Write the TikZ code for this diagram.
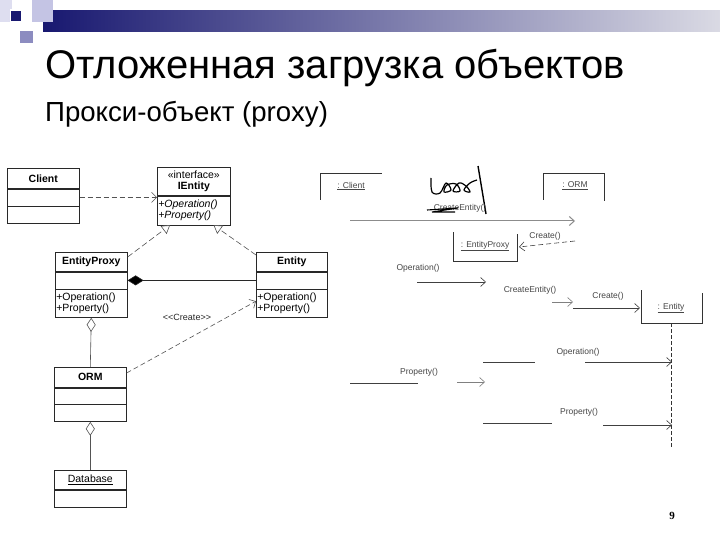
\documentclass[tikz,border=0pt]{standalone}
\usepackage{fontspec}
\setmainfont{Liberation Sans}
\newfontfamily\numfont{Liberation Serif}
\usetikzlibrary{arrows.meta,calc}
\definecolor{navy}{RGB}{24,24,112}
\definecolor{barend}{RGB}{218,218,228}
\definecolor{lavA}{RGB}{222,222,240}
\definecolor{lavB}{RGB}{196,196,228}
\definecolor{lavC}{RGB}{140,140,192}
\definecolor{umlline}{RGB}{40,40,40}
\definecolor{seqtext}{RGB}{70,70,70}
\begin{document}
\begin{tikzpicture}[x=1pt,y=-1pt,
  cls/.style={draw=umlline, line width=0.6pt, inner sep=0pt, fill=white,
    font=\fontsize{10.5}{12}\selectfont, anchor=north west},
  clsname/.style={cls, font=\fontsize{10.5}{12}\selectfont\bfseries},
  clsbody/.style={cls, anchor=north},
  clsmeth/.style={cls, anchor=north, align=left, inner xsep=1pt},
  dep/.style={draw=umlline!80, line width=0.6pt, dash pattern=on 5pt off 3pt,
    -{Straight Barb[length=5pt,width=10pt]}},
  real/.style={draw=umlline!80, line width=0.6pt, dash pattern=on 6pt off 3pt,
    -{Triangle[open,length=8pt,width=10pt,fill=white]}},
  seqlbl/.style={font=\fontsize{8.5}{10}\selectfont, text=seqtext, inner sep=0pt},
  seqmsg/.style={draw=black!75, line width=0.6pt},
  seqarr/.style={seqmsg, -{Straight Barb[length=5pt,width=9pt]}},
  seqbox/.style={draw=black!80, line width=0.8pt}
]
\useasboundingbox (0,0) rectangle (720,540);
\fill[white] (0,0) rectangle (720,540);

% ---------- header decoration ----------
\shade[left color=navy, right color=barend] (43,11) rectangle (720,32);
\fill[lavA] (0,0) rectangle (12,9);
\fill[lavB] (32,0) rectangle (53,22);
\fill[lavA] (0,9) rectangle (10,22);
\fill[navy] (11,11) rectangle (21,21);
\fill[lavC] (20,31) rectangle (33,43);

% ---------- titles ----------
\node[anchor=base west, inner sep=0pt, font=\fontsize{40}{44}\selectfont] (title) at (45,79)
  {Отложенная загрузка объектов};
\node[anchor=base west, inner sep=0pt, font=\fontsize{27.6}{30}\selectfont] (subtitle) at (45,122)
  {Прокси-объект (proxy)};

% ---------- class diagram ----------
% Client
\node[clsname, minimum width=72pt, minimum height=20pt] (clN) at (7,168) {Client};
\node[clsbody, minimum width=72pt, minimum height=17pt] (clA) at (clN.south) {};
\node[clsbody, minimum width=72pt, minimum height=17pt] (clM) at (clA.south) {};

% IEntity
\node[cls, minimum width=73pt, minimum height=28pt, align=center,
  font=\fontsize{10.5}{12}\selectfont] (ieN) at (157,167)
  {«interface»\\[-1pt]\textbf{IEntity}};
\node[clsmeth, text width=71pt, minimum height=29pt] (ieM) at (ieN.south)
  {\itshape +Operation()\\[-1pt]\itshape +Property()};

% EntityProxy
\node[clsname, minimum width=72pt, minimum height=19pt] (epN) at (55,252) {EntityProxy};
\node[clsbody, minimum width=72pt, minimum height=17pt] (epA) at (epN.south) {};
\node[clsmeth, text width=70pt, minimum height=28pt] (epM) at (epA.south)
  {+Operation()\\[-1pt]+Property()};

% Entity
\node[clsname, minimum width=71pt, minimum height=19pt] (enN) at (256,252) {Entity};
\node[clsbody, minimum width=71pt, minimum height=17pt] (enA) at (enN.south) {};
\node[clsmeth, text width=69pt, minimum height=28pt] (enM) at (enA.south)
  {+Operation()\\[-1pt]+Property()};

% ORM
\node[clsname, minimum width=72pt, minimum height=20pt] (ormN) at (54,367) {ORM};
\node[clsbody, minimum width=72pt, minimum height=16pt] (ormA) at (ormN.south) {};
\node[clsbody, minimum width=72pt, minimum height=17pt] (ormM) at (ormA.south) {};

% Database
\node[cls, minimum width=72pt, minimum height=19pt] (dbN) at (54,470) {\underline{Database}};
\node[clsbody, minimum width=72pt, minimum height=17pt] (dbA) at (dbN.south) {};

% connectors
\draw[dep] (clA.east) -- (clA.east -| ieN.west);
\draw[real] ([yshift=-5pt]epN.north east) -- ([xshift=13pt]ieM.south west);
\draw[real] ([yshift=-3pt]enN.north west) -- ([xshift=-17pt]ieM.south east);
\draw[draw=umlline, line width=0.6pt,
  {Diamond[length=16pt,width=10pt,fill=black]}-] (epA.east) -- (enA.west);
\draw[dep] ([yshift=-6pt]ormN.north east) -- ([yshift=-12pt]enM.north west);
\node[font=\fontsize{9}{10}\selectfont, text=umlline] (createlbl) at (187,317)
  {\mbox{<}\mbox{<}Create\mbox{>}\mbox{>}};
\draw[draw=umlline!80, line width=0.6pt,
  {Diamond[open,length=14pt,width=9pt,fill=white]}-] (epM.south) -- (ormN.north);
\draw[draw=umlline!80, line width=0.6pt,
  {Diamond[open,length=14pt,width=9pt,fill=white]}-] (ormM.south) -- (dbN.north);

% ---------- sequence diagram ----------
% lifeline headers
\draw[seqbox] (320,200) -- (320,173) -- (382,173);
\node[seqlbl] (sClient) at (351,186) {\underline{: Client}};
\draw[seqbox] (543,200) -- (543,173) -- (604,173) -- (604,201);
\node[seqlbl] (sORM) at (575,186) {\underline{: ORM}};
\draw[seqbox] (453,232) -- (453,261) -- (517,261) -- (517,234);
\node[seqlbl] (sProxy) at (485,246) {\underline{: EntityProxy}};
\draw[seqbox] (641,290) -- (641,323) -- (702,323) -- (702,293);
\node[seqlbl] (sEntity) at (671,308) {\underline{: Entity}};
\coordinate (entTop) at (671,323);
\coordinate (entBot) at (671,447);
\draw[black!80, line width=0.8pt, dash pattern=on 4pt off 2pt] (entTop) -- (entBot);

% scribble
\draw[black, line width=1.2pt, line join=round] plot[smooth, tension=0.6] coordinates
  {(431,178) (432,192) (440,193) (446,183) (451,190) (444,192) (447,185) (456,184)
   (460,191) (453,191) (459,183) (466,186) (470,192) (464,190) (470,183) (477,180)};
\draw[black, line width=1.4pt] (478,166) -- (486,214);

% messages
\node[seqlbl] (m1) at (460,208) {CreateEntity()};
\draw[black, line width=1.1pt] (427,210) -- (458,208) -- (432,212) -- (455,212);
\coordinate (m1a) at (350,221); \coordinate (m1b) at (575,221);
\draw[seqarr, draw=black!45, line width=1pt] (m1a) -- (m1b);

\node[seqlbl] (m2) at (545,236) {Create()};
\coordinate (m2a) at (575,241); \coordinate (m2b) at (519,247);
\draw[seqmsg, dash pattern=on 5pt off 3pt, -{Straight Barb[length=5pt,width=9pt]}]
  (m2a) -- (m2b);

\node[seqlbl] (m3) at (418,268) {Operation()};
\coordinate (m3a) at (417,282); \coordinate (m3b) at (486,282);
\draw[seqarr] (m3a) -- (m3b);

\node[seqlbl] (m4) at (530,290) {CreateEntity()};
\coordinate (m4a) at (552,302); \coordinate (m4b) at (573,302);
\draw[seqarr, draw=black!50] (m4a) -- (m4b);

\node[seqlbl] (m5) at (608,296) {Create()};
\coordinate (m5a) at (573,308); \coordinate (m5b) at (640,308);
\draw[seqarr] (m5a) -- (m5b);

\node[seqlbl] (m6) at (578,352) {Operation()};
\coordinate (m6a) at (483,362); \coordinate (m6c) at (535,362);
\coordinate (m6d) at (585,362); \coordinate (m6b) at (672,362);
\draw[seqmsg] (m6a) -- (m6c);
\draw[seqarr] (m6d) -- (m6b);

\node[seqlbl] (m7) at (419,372) {Property()};
\coordinate (m7a) at (350,383); \coordinate (m7c) at (418,383);
\coordinate (m7d) at (457,382); \coordinate (m7b) at (485,382);
\draw[seqmsg] (m7a) -- (m7c);
\draw[seqarr, draw=black!50] (m7d) -- (m7b);

\node[seqlbl] (m8) at (579,412) {Property()};
\coordinate (m8a) at (483,423); \coordinate (m8c) at (552,423);
\coordinate (m8d) at (603,425); \coordinate (m8b) at (672,425);
\draw[seqmsg] (m8a) -- (m8c);
\draw[seqarr] (m8d) -- (m8b);

% page number
\node[font=\numfont\bfseries\fontsize{11}{12}\selectfont] (pnum) at (672,516) {9};
\end{tikzpicture}
\end{document}
